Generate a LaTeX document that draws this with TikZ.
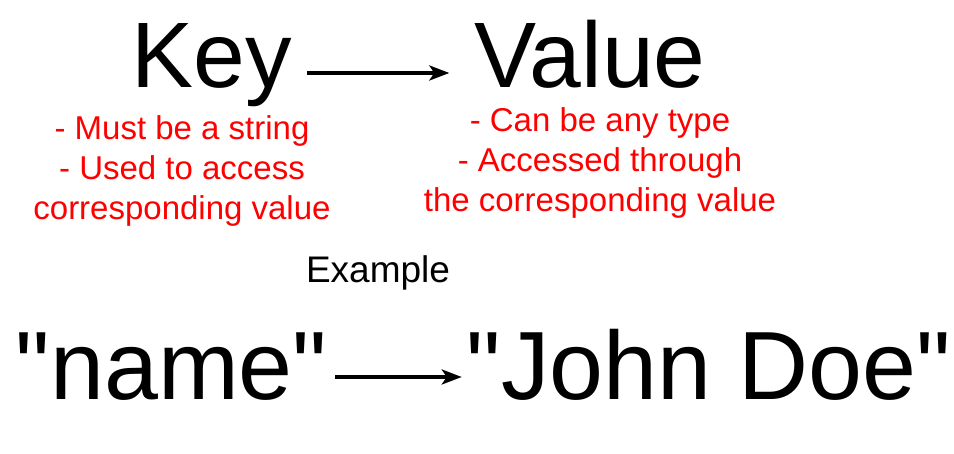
\documentclass[tikz,border=0pt]{standalone}
\usepackage{fontspec}
\setmainfont{Liberation Sans}[Ligatures=TeXOff]
\usetikzlibrary{arrows.meta}
\definecolor{notered}{RGB}{255,0,0}

\begin{document}
\begin{tikzpicture}[x=1pt,y=-1pt,>={Stealth[length=20pt,width=15pt,inset=5pt]},
  big/.style={inner sep=0pt,anchor=base,font=\fontsize{93}{93}\selectfont},
  ex/.style={inner sep=0pt,anchor=base,font=\fontsize{97}{97}\selectfont},
  note/.style={inner sep=0pt,anchor=north,align=center,text=notered,
               font=\fontsize{33}{40}\selectfont},
  arr/.style={->,line width=3.5pt}]
  \useasboundingbox (0,0) rectangle (954,454);
  \node[big] (key)   at (211.5,88) {Key};
  \node[big] (value) at (590,88)   {Value};
  \node[note] (keynote)   at (182,115) {- Must be a string\\- Used to access\\corresponding value};
  \node[note] (valuenote) at (600,107) {- Can be any type\\- Accessed through\\the corresponding value};
  \node[inner sep=0pt,anchor=base,font=\fontsize{37}{37}\selectfont] (example) at (378,283) {Example};
  \node[ex] (name) at (171.5,400) {"name"};
  \node[ex] (john) at (709,400)   {"John Doe"};
  \draw[arr] ([xshift=15pt,yshift=15pt]key.base east) -- ([xshift=-25pt,yshift=15pt]value.base west);
  \draw[arr] ([xshift=8pt,yshift=23pt]name.base east) -- ([xshift=-5pt,yshift=23pt]john.base west);
\end{tikzpicture}
\end{document}
